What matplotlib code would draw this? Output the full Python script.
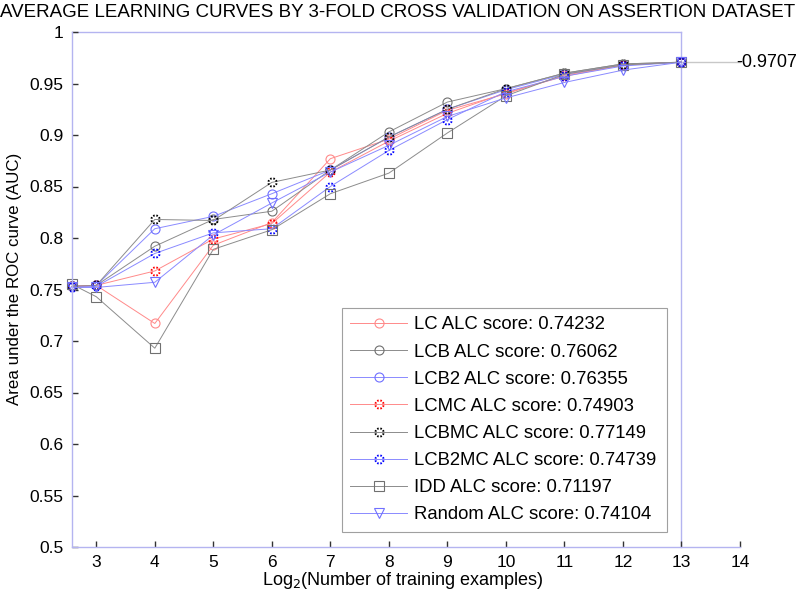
import numpy as np
import matplotlib
matplotlib.use("Agg")
import matplotlib.pyplot as plt
from matplotlib.path import Path
from matplotlib.ticker import FuncFormatter

plt.rcParams['font.family'] = ['Liberation Sans', 'DejaVu Sans']

# ---------------- data ----------------
x_vals = [2.585, 3, 4, 5, 6, 7, 8, 9, 10, 11, 12, 13]
x_ticks = [3, 4, 5, 6, 7, 8, 9, 10, 11, 12, 13, 14]
y_ticks = [0.5, 0.55, 0.6, 0.65, 0.7, 0.75, 0.8, 0.85, 0.9, 0.95, 1.0]

lc     = [0.753, 0.754, 0.717, 0.793, 0.815, 0.877, 0.896, 0.924, 0.940, 0.958, 0.968, 0.9707]
lcb    = [0.753, 0.754, 0.792, 0.818, 0.826, 0.866, 0.903, 0.932, 0.945, 0.960, 0.969, 0.9707]
lcb2   = [0.753, 0.754, 0.809, 0.821, 0.843, 0.866, 0.898, 0.925, 0.944, 0.959, 0.968, 0.9707]
lcmc   = [0.753, 0.754, 0.768, 0.799, 0.814, 0.864, 0.894, 0.921, 0.941, 0.957, 0.968, 0.9707]
lcbmc  = [0.753, 0.754, 0.818, 0.817, 0.854, 0.866, 0.898, 0.925, 0.945, 0.960, 0.969, 0.9707]
lcb2mc = [0.752, 0.753, 0.785, 0.805, 0.809, 0.850, 0.885, 0.915, 0.942, 0.957, 0.967, 0.9707]
idd    = [0.755, 0.743, 0.693, 0.789, 0.808, 0.843, 0.863, 0.902, 0.938, 0.959, 0.968, 0.9707]
rand   = [0.752, 0.752, 0.757, 0.803, 0.834, 0.864, 0.890, 0.918, 0.936, 0.951, 0.963, 0.9707]

labels = ["LC ALC score: 0.74232", "LCB ALC score: 0.76062", "LCB2 ALC score: 0.76355",
          "LCMC ALC score: 0.74903", "LCBMC ALC score: 0.77149", "LCB2MC ALC score: 0.74739",
          "IDD ALC score: 0.71197", "Random ALC score: 0.74104"]
final_value = 0.9707
title = "AVERAGE LEARNING CURVES BY 3-FOLD CROSS VALIDATION ON ASSERTION DATASET"

# ---------------- marker ----------------
def dashed_circle(n=8, frac=0.5):
    step = 360.0 / n
    parts = []
    for i in range(n):
        a0 = i * step + step * 0.25
        parts.append(Path.arc(a0, a0 + step * frac))
    return Path.make_compound_path(*parts)

dc = dashed_circle()

RED_L = '#ff8a8a'
BLU_L = '#8a8aff'
GRY_L = '#8c8c8c'

series = [
    (lc,     RED_L, 'o', RED_L,     6.5, 0.8),
    (lcb,    GRY_L, 'o', '#707070', 6.5, 0.8),
    (lcb2,   BLU_L, 'o', '#7070ff', 6.5, 0.8),
    (lcmc,   RED_L, dc,  '#ff0000', 5.8, 1.4),
    (lcbmc,  GRY_L, dc,  '#000000', 5.8, 1.4),
    (lcb2mc, BLU_L, dc,  '#0000ff', 5.8, 1.4),
    (idd,    GRY_L, 's', '#707070', 6.5, 0.8),
    (rand,   BLU_L, 'v', '#7070ff', 6.5, 0.8),
]

fig = plt.figure(figsize=(8.0, 6.06), dpi=100)
ax = fig.add_axes([72/800, 59/606, 668/800, 515/606])

for (vals, lcol, mk, mcol, ms, mew), lab in zip(series, labels):
    ax.plot(x_vals, vals, color=lcol, lw=0.7, marker=mk, ms=ms,
            mfc='none', mec=mcol, mew=mew, label=lab, clip_on=False)

ax.set_xlim(2.585, 14)
ax.set_ylim(0.5, 1.0)
ax.set_xticks(x_ticks)
ax.set_yticks(y_ticks)
ax.yaxis.set_major_formatter(FuncFormatter(lambda v, p: '%g' % v))
ax.tick_params(direction='in', length=4, width=1, color='#333333',
               labelsize=12.5, pad=6)
ax.tick_params(axis='x', pad=6)

spine_col = '#b4b4f0'
for s in ['top', 'right']:
    ax.spines[s].set_visible(False)
for s in ['left', 'bottom']:
    ax.spines[s].set_color(spine_col)
    ax.spines[s].set_linewidth(1.0)

ax.plot([2.585, 13], [1.0, 1.0], color=spine_col, lw=1.0, clip_on=False, zorder=1)
ax.plot([13, 13], [0.5, 1.0], color=spine_col, lw=1.0, clip_on=False, zorder=1)
ax.plot([13, 14], [final_value, final_value], color='#c8c8c8', lw=1.0, clip_on=False, zorder=1)
ax.text(13.93, final_value, '-%.4f' % final_value, ha='left', va='center', fontsize=13)

leg = ax.legend(loc='upper left', bbox_to_anchor=(0.404, 0.464, 0.487, 0.0),
                mode='expand', borderaxespad=0, fontsize=13.3, labelspacing=0.55,
                handlelength=3.1, handletextpad=0.33, borderpad=0.45,
                fancybox=False, framealpha=1, edgecolor='#a0a0a0')
leg.get_frame().set_linewidth(0.8)

fig.text(398/800, 1 - 17/606, title, ha='center', va='baseline', fontsize=13.5)
fig.text(15/800, 1 - 279/606, 'Area under the ROC curve (AUC)', rotation=90,
         ha='center', va='center', fontsize=12.2)
fig.text(403/800, 1 - 585/606, 'Log$_2$(Number of training examples)',
         ha='center', va='baseline', fontsize=13)

fig.savefig('out.png', dpi=100)
